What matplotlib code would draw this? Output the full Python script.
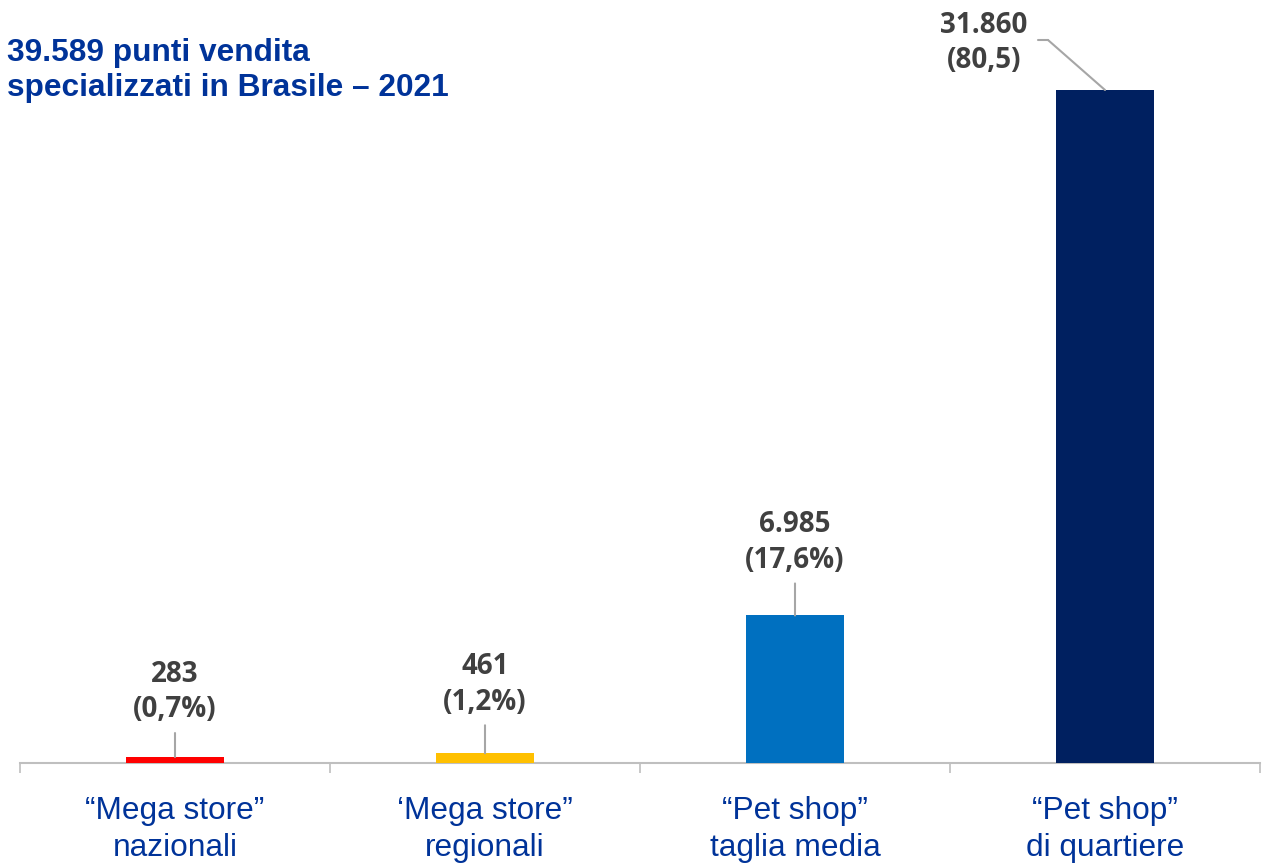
import matplotlib
matplotlib.use("Agg")
import matplotlib.pyplot as plt
from matplotlib.transforms import offset_copy

# dati: punti vendita specializzati in Brasile, 2021
categories = ["\u201cMega store\u201d\nnazionali", "\u2018Mega store\u201d\nregionali",
              "\u201cPet shop\u201d\ntaglia media", "\u201cPet shop\u201d\ndi quartiere"]
values = [283, 461, 6985, 31860]
value_labels = ["283\n(0,7%)", "461\n(1,2%)", "6.985\n(17,6%)", "31.860\n(80,5)"]
colors = ["#FF0000", "#FFC000", "#0070C0", "#002060"]

TITLE_COLOR = "#003399"
LABEL_COLOR = "#404040"
LINE_COLOR = "#A6A6A6"

W, H = 1273, 864
fig = plt.figure(figsize=(W / 100, H / 100), dpi=100)
# asse: x da 20 a 1260 px, base a y=763 px, barra piu' alta fino a y=90
ax = fig.add_axes([20 / W, (H - 763) / H, 1240 / W, 763 / H])
ax.set_xlim(-0.5, 3.5)
ax.set_ylim(0, values[-1] * 763 / 673)

ax.bar(range(4), values, width=0.316, color=colors, zorder=3)

for s in ["top", "left", "right"]:
    ax.spines[s].set_visible(False)
ax.spines["bottom"].set_color("#BFBFBF")
ax.spines["bottom"].set_linewidth(1.5)
ax.set_yticks([])

ax.set_xticks(range(4))
ax.set_xticklabels(categories, fontsize=22.8, color=TITLE_COLOR,
                   family="Liberation Sans", linespacing=1.3)
ax.tick_params(axis="x", which="major", length=0, pad=24)
ax.set_xticks([i - 0.5 for i in range(5)], minor=True)
ax.tick_params(axis="x", which="minor", length=7.5, width=1.2, color="#BFBFBF", direction="out")

# etichette dati con linee guida (offset in pixel)
offsets = [(0, 65), (0, 69), (0, 73)]
line_len = [24, 28, 32]
for i in range(3):
    ax.annotate("", xy=(i, values[i]), xytext=(0, line_len[i]), textcoords="offset pixels",
                arrowprops=dict(arrowstyle="-", color=LINE_COLOR, lw=1.5, shrinkA=0, shrinkB=0))
    ax.annotate(value_labels[i], xy=(i, values[i]), xytext=offsets[i], textcoords="offset pixels",
                ha="center", va="center", fontsize=20, fontweight="bold", color=LABEL_COLOR,
                family="Open Sans", linespacing=1.3, annotation_clip=False)

# barra piu' alta: etichetta spostata a sinistra, linea guida spezzata
knee = offset_copy(ax.transData, fig=fig, x=-57, y=50, units="dots")
ax.annotate("", xy=(3, values[3]), xytext=(-57, 50), textcoords="offset pixels",
            arrowprops=dict(arrowstyle="-", color=LINE_COLOR, lw=1.5, shrinkA=0, shrinkB=0),
            annotation_clip=False)
ax.annotate("", xy=(3, values[3]), xycoords=knee, xytext=(-10, 0), textcoords="offset pixels",
            arrowprops=dict(arrowstyle="-", color=LINE_COLOR, lw=1.5, shrinkA=0, shrinkB=0),
            annotation_clip=False)
ax.annotate(value_labels[3], xy=(3, values[3]), xytext=(-121, 47), textcoords="offset pixels",
            ha="center", va="center", fontsize=20, fontweight="bold", color=LABEL_COLOR,
            family="Open Sans", linespacing=1.3, annotation_clip=False)

fig.text(7 / W, 1 - 38 / H, "39.589 punti vendita\nspecializzati in Brasile \u2013 2021",
         ha="left", va="top", fontsize=22.8, fontweight="bold", color=TITLE_COLOR,
         family="Liberation Sans", linespacing=1.22)

fig.savefig("out.png", dpi=100, facecolor="white")
